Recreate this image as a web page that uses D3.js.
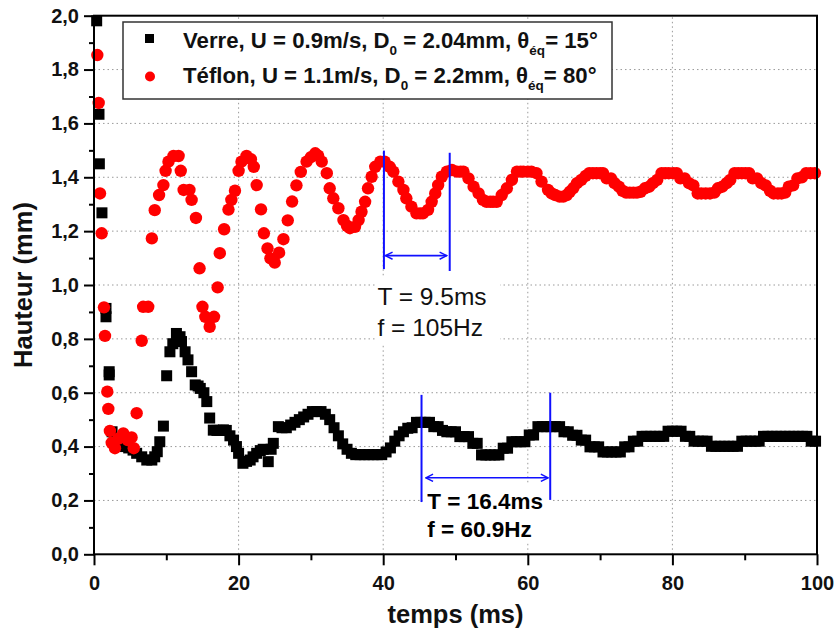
<!DOCTYPE html>
<html><head><meta charset="utf-8">
<script src="https://cdn.jsdelivr.net/npm/d3@7"></script>
<style>
html,body{margin:0;padding:0;background:#fff;}
text{font-family:"Liberation Sans",Arial,sans-serif;}
</style></head>
<body><svg id="c" width="835" height="636"></svg>
<script>
// ---- data (t in ms, hauteur in mm) ----
const verre = [
[0.37,1.981],[0.69,1.634],[0.74,1.45],[1.1,1.268],[1.66,0.913],[1.66,0.882],[2.1,0.678],[2.1,0.666],
[2.5,0.455],[2.8,0.43],[3.3,0.42],[3.8,0.413],[4.3,0.40],[4.8,0.395],[5.4,0.387],[5.9,0.375],[6.6,0.362],
[7.3,0.35],[8.0,0.35],[8.4,0.362],[8.75,0.381],[9.1,0.418],[9.6,0.476],[10.05,0.663],[10.5,0.752],[10.9,0.782],
[11.4,0.82],[11.9,0.808],[12.1,0.79],[12.6,0.752],[13.0,0.722],[13.5,0.678],[14.0,0.629],[14.4,0.625],[14.7,0.616],
[15.2,0.6],[15.6,0.567],[16.0,0.506],[16.5,0.461],[17.0,0.46],[17.4,0.46],[17.9,0.462],[18.3,0.46],[18.8,0.44],
[19.3,0.424],[19.7,0.40],[20.0,0.375],[20.6,0.338],[21.1,0.345],[21.6,0.35],[22.0,0.362],[22.5,0.375],[23.0,0.385],
[23.4,0.39],[24.1,0.344],[24.5,0.39],[24.8,0.412],[25.5,0.474],
[26.0,0.47],[26.6,0.47],[27.2,0.48],[27.8,0.49],[28.4,0.5],[29.0,0.51],[29.6,0.52],[30.2,0.53],[30.8,0.53],[31.4,0.53],
[32.0,0.52],[32.6,0.5],[33.2,0.47],[33.8,0.44],[34.4,0.41],[35.0,0.39],[35.6,0.375],[36.2,0.37],[36.8,0.37],[37.4,0.37],
[38.0,0.37],[38.6,0.37],[39.2,0.37],[39.8,0.37],[40.4,0.38],[41.0,0.395],[41.6,0.42],[42.2,0.44],[42.8,0.455],[43.4,0.468],
[44.0,0.47],[44.6,0.49],[45.2,0.49],[45.8,0.49],[46.4,0.49],[47.0,0.474],[47.6,0.474],[48.2,0.46],[48.8,0.455],[49.4,0.455],
[50.0,0.455],[50.6,0.437],[51.2,0.437],[51.8,0.437],[52.4,0.412],[53.0,0.412],[53.6,0.369],[54.2,0.369],[54.8,0.369],
[55.4,0.369],[56.0,0.369],[56.6,0.394],[57.2,0.394],[57.8,0.418],[58.4,0.418],[59.0,0.418],[59.6,0.418],[60.2,0.443],
[60.8,0.443],[61.4,0.474],[62.0,0.474],[62.6,0.474],[63.2,0.474],[63.8,0.474],[64.4,0.474],[65.0,0.455],[65.6,0.455],
[66.2,0.442],[66.8,0.442],[67.4,0.424],[68.0,0.424],[68.6,0.399],[69.2,0.399],[69.8,0.399],[70.4,0.38],[71.0,0.38],
[71.6,0.38],[72.2,0.38],[72.8,0.38],[73.4,0.399],[74.0,0.399],[74.6,0.42],[75.2,0.42],[75.8,0.438],[76.4,0.438],
[77.0,0.438],[77.6,0.438],[78.2,0.438],[78.8,0.438],[79.4,0.457],[80.0,0.457],[80.6,0.457],[81.2,0.457],[81.8,0.438],
[82.4,0.438],[83.0,0.42],[83.6,0.42],[84.2,0.42],[84.8,0.42],[85.4,0.401],[86.0,0.401],[86.6,0.401],[87.2,0.401],
[87.8,0.401],[88.4,0.401],[89.0,0.401],[89.6,0.42],[90.2,0.42],[90.8,0.42],[91.4,0.42],[92.0,0.42],[92.6,0.438],
[93.2,0.438],[93.8,0.438],[94.4,0.438],[95.0,0.438],[95.6,0.438],[96.2,0.438],[96.8,0.438],[97.4,0.438],[98.0,0.438],
[98.6,0.438],[99.2,0.42],[99.8,0.42]
];
const teflon = [
[0.46,1.854],[0.65,1.676],[0.83,1.34],[1.06,1.192],[1.38,0.917],[1.52,0.811],[1.84,0.604],[1.98,0.54],[2.2,0.458],
[2.45,0.414],[2.9,0.394],[3.4,0.43],[4.05,0.449],[4.66,0.424],[5.2,0.434],[5.5,0.394],[5.9,0.524],[6.6,0.793],
[6.8,0.919],[7.5,0.919],[8.0,1.173],[8.4,1.278],[9.0,1.334],[9.6,1.371],[9.9,1.424],[10.3,1.458],[11.0,1.479],
[11.7,1.479],[12.0,1.424],[12.4,1.353],[13.2,1.353],[13.5,1.316],[14.1,1.249],[14.6,1.062],[15.0,0.919],[15.4,0.882],
[16.0,0.845],[16.6,0.882],[17.1,0.991],[17.4,1.118],[18.0,1.207],[18.6,1.28],[19.0,1.316],[19.5,1.35],[20.0,1.424],
[20.4,1.458],[21.1,1.479],[21.7,1.467],[22.1,1.439],[22.5,1.371],[23.1,1.281],[23.5,1.192],[24.0,1.136],[24.4,1.099],
[25.0,1.083],[25.6,1.12],[26.2,1.17],[26.8,1.24],[27.4,1.31],[28.0,1.37],[28.6,1.42],[29.4,1.458],[30.0,1.475],
[30.6,1.489],[31.0,1.48],[31.5,1.458],[32.2,1.415],[32.6,1.359],[33.1,1.322],[33.8,1.285],[34.5,1.241],[35.0,1.22],
[35.4,1.211],[36.1,1.216],[36.6,1.241],[37.0,1.272],[37.5,1.309],[37.9,1.359],[38.4,1.402],[38.9,1.439],[39.6,1.458],
[40.2,1.458],[40.9,1.439],[41.4,1.421],[42.1,1.384],[42.8,1.353],[43.2,1.322],[43.9,1.291],[44.6,1.266],[45.1,1.266],
[45.5,1.266],[46.2,1.279],[46.7,1.309],[47.2,1.34],[47.6,1.371],[48.1,1.402],[48.8,1.421],[49.5,1.427],[50.2,1.421],
[50.7,1.421],[51.1,1.421],[51.8,1.396],[52.5,1.365],[53.2,1.34],[53.8,1.316],[54.3,1.309],[54.8,1.309],[55.2,1.309],
[55.7,1.309],[56.4,1.334],[57.1,1.359],[57.8,1.39],[58.5,1.421],[59.0,1.421],[59.4,1.421],[60.0,1.421],[60.5,1.421],
[61.2,1.415],[61.9,1.384],[62.8,1.353],[63.3,1.34],[63.8,1.334],[64.4,1.328],[64.9,1.328],[65.4,1.334],[65.8,1.346],
[66.3,1.36],[66.8,1.378],[67.4,1.39],[68.0,1.405],[68.5,1.415],[69.0,1.415],[69.5,1.415],[70.0,1.415],[70.4,1.415],
[70.9,1.396],[71.5,1.396],[72.0,1.378],[72.6,1.365],[73.1,1.35],[73.6,1.343],[74.1,1.343],[74.6,1.343],[75.1,1.343],
[75.6,1.346],[76.2,1.359],[76.8,1.365],[77.3,1.378],[77.9,1.39],[78.5,1.415],[79.0,1.415],[79.5,1.415],[80.1,1.415],
[80.6,1.415],[81.1,1.396],[81.7,1.396],[82.3,1.378],[82.9,1.37],[83.5,1.34],[84.0,1.34],[84.6,1.34],[85.2,1.34],
[85.8,1.343],[86.3,1.359],[86.9,1.365],[87.5,1.378],[88.0,1.39],[88.6,1.415],[89.1,1.415],[89.6,1.415],[90.1,1.415],
[90.6,1.415],[91.1,1.396],[91.7,1.396],[92.3,1.378],[92.9,1.37],[93.5,1.35],[94.0,1.34],[94.6,1.34],[95.1,1.34],
[95.6,1.343],[96.1,1.365],[96.7,1.37],[97.3,1.396],[97.9,1.4],[98.5,1.415],[99.1,1.415],[99.7,1.415]
];
const xMajor = [0,20,40,60,80,100];
const xMinor = [10,30,50,70,90];
const yMajor = [0,0.2,0.4,0.6,0.8,1.0,1.2,1.4,1.6,1.8,2.0];
const yMinor = [0.1,0.3,0.5,0.7,0.9,1.1,1.3,1.5,1.7,1.9];
const xGrid = [20,40,60,80];
const yGrid = [0.2,0.4,0.6,0.8,1.0,1.2,1.4,1.6,1.8];
// period markers: [t, hTop, hBottom]
const teflonMarks = [[40.1,1.499,1.059],[49.2,1.491,1.052]];
const teflonArrow = [40.3,48.8,1.109];
const verreMarks = [[45.3,0.592,0.194],[63.1,0.600,0.202]];
const verreArrow = [45.9,62.8,0.284];
const teflonNote = ["T = 9.5ms","f = 105Hz"];
const verreNote = ["T = 16.4ms","f = 60.9Hz"];

const svg = d3.select("#c");
const x = d3.scaleLinear().domain([0,100]).range([94,817]);
const y = d3.scaleLinear().domain([0,2]).range([554.3,15.7]);
const blue = "#1010ff";

// grid
const g = svg.append("g");
g.selectAll(".gx").data(xGrid).join("line").attr("x1",d=>x(d)).attr("x2",d=>x(d))
 .attr("y1",y(0)).attr("y2",y(2)).attr("stroke","#9a9a9a").attr("stroke-width",1).attr("stroke-dasharray","1.5,3");
g.selectAll(".gy").data(yGrid).join("line").attr("y1",d=>y(d)).attr("y2",d=>y(d))
 .attr("x1",x(0)).attr("x2",x(100)).attr("stroke","#9a9a9a").attr("stroke-width",1).attr("stroke-dasharray","1.5,3");

// data
const sq = 11;
svg.append("g").selectAll("rect").data(verre).join("rect")
 .attr("x",d=>x(d[0])-sq/2).attr("y",d=>y(d[1])-sq/2).attr("width",sq).attr("height",sq).attr("fill","#000");
svg.append("g").selectAll("circle").data(teflon).join("circle")
 .attr("cx",d=>x(d[0])).attr("cy",d=>y(d[1])).attr("r",6.2).attr("fill","#ff0000");

// annotation background boxes
svg.append("rect").attr("x",377).attr("y",277).attr("width",123).attr("height",68).attr("fill","#fff");
svg.append("rect").attr("x",423).attr("y",485).attr("width",127).attr("height",58).attr("fill","#fff");

// annotation texts
svg.append("text").attr("x",x(39.2)).attr("y",305).attr("font-size",24.5).attr("fill","#111").text(teflonNote[0]);
svg.append("text").attr("x",x(39.2)).attr("y",336).attr("font-size",24.5).attr("fill","#111").text(teflonNote[1]);
svg.append("text").attr("x",x(46.1)).attr("y",509).attr("font-size",22.5).attr("font-weight","bold").attr("fill","#000").text(verreNote[0]);
svg.append("text").attr("x",x(46.1)).attr("y",537).attr("font-size",22.5).attr("font-weight","bold").attr("fill","#000").text(verreNote[1]);

// blue markers
const defs = svg.append("defs");
["s","e"].forEach(k=>{
  defs.append("marker").attr("id","ar"+k).attr("viewBox","0 0 10 10").attr("refX", k==="e"?9:1).attr("refY",5)
   .attr("markerWidth",9).attr("markerHeight",9).attr("markerUnits","userSpaceOnUse").attr("orient","auto")
   .append("path").attr("d", k==="e" ? "M1,1 L9,5 L1,9" : "M9,1 L1,5 L9,9").attr("fill","none").attr("stroke",blue).attr("stroke-width",1.6);
});
function marks(arr, arrow){
  svg.append("g").selectAll("line").data(arr).join("line")
   .attr("x1",d=>x(d[0])).attr("x2",d=>x(d[0])).attr("y1",d=>y(d[1])).attr("y2",d=>y(d[2]))
   .attr("stroke",blue).attr("stroke-width",2);
  svg.append("line").attr("x1",x(arrow[0])).attr("x2",x(arrow[1])).attr("y1",y(arrow[2])).attr("y2",y(arrow[2]))
   .attr("stroke",blue).attr("stroke-width",1.6).attr("marker-start","url(#ars)").attr("marker-end","url(#are)");
}
marks(teflonMarks, teflonArrow);
marks(verreMarks, verreArrow);

// axes
const fmtY = d => d3.format(".1f")(d).replace(".",",");
const yAx = svg.append("g").attr("transform",`translate(${x(0)},0)`)
 .call(d3.axisLeft(y).tickValues(yMajor).tickSize(10).tickPadding(5).tickFormat(fmtY));
const yAxm = svg.append("g").attr("transform",`translate(${x(0)},0)`)
 .call(d3.axisLeft(y).tickValues(yMinor).tickSize(5).tickFormat(""));
const xAx = svg.append("g").attr("transform",`translate(0,${y(0)})`)
 .call(d3.axisBottom(x).tickValues(xMajor).tickSize(11).tickPadding(11).tickFormat(d3.format("d")));
const xAxm = svg.append("g").attr("transform",`translate(0,${y(0)})`)
 .call(d3.axisBottom(x).tickValues(xMinor).tickSize(6).tickFormat(""));
[yAx,yAxm,xAx,xAxm].forEach(a=>{
  a.select(".domain").remove();
  a.selectAll(".tick line").attr("stroke","#000").attr("stroke-width",2);
  a.selectAll("text").attr("font-family","Liberation Sans, Arial, sans-serif").attr("font-weight","bold").attr("font-size",20).attr("fill","#111");
});
// frame
svg.append("rect").attr("x",x(0)).attr("y",y(2)).attr("width",x(100)-x(0)).attr("height",y(0)-y(2))
 .attr("fill","none").attr("stroke","#000").attr("stroke-width",2);

// axis titles
svg.append("text").attr("x",x(50)).attr("y",623).attr("text-anchor","middle").attr("font-weight","bold")
 .attr("font-size",25.5).attr("fill","#111").text("temps (ms)");
svg.append("text").attr("transform",`translate(32,${(y(0)+y(2))/2}) rotate(-90)`).attr("text-anchor","middle")
 .attr("font-weight","bold").attr("font-size",25.5).attr("fill","#111").text("Hauteur (mm)");

// legend
const lg = svg.append("g");
lg.append("rect").attr("x",123).attr("y",22).attr("width",489).attr("height",77).attr("fill","#fff")
 .attr("stroke","#333").attr("stroke-width",1.5);
lg.append("rect").attr("x",145).attr("y",34).attr("width",9).attr("height",9).attr("fill","#000");
lg.append("circle").attr("cx",150).attr("cy",76.5).attr("r",5).attr("fill","#ff0000");
function legendText(yb, parts){
  const t = lg.append("text").attr("x",183).attr("y",yb).attr("font-weight","bold").attr("font-size",22.2).attr("fill","#111");
  parts.forEach(p=>{
    const s = t.append("tspan").text(p[0]);
    if(p[1]==="sub"){ s.attr("font-size",13.5).attr("dy",7); }
    else if(p[1]==="up"){ s.attr("dy",-7); }
  });
}
legendText(47.7, [["Verre, U = 0.9m/s, D"],["0","sub"],[" = 2.04mm, θ","up"],["éq","sub"],["= 15°","up"]]);
legendText(83.3, [["Téflon, U = 1.1m/s, D"],["0","sub"],[" = 2.2mm, θ","up"],["éq","sub"],["= 80°","up"]]);
</script>
</body></html>
